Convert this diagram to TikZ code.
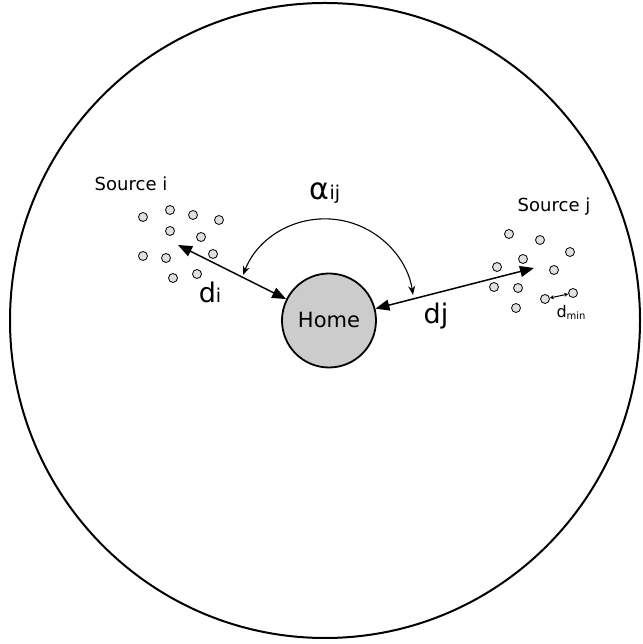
\documentclass[tikz,border=0pt]{standalone}
\usepackage{fontspec}
\setmainfont{DejaVu Sans}
\usepackage{xcolor}
\usetikzlibrary{arrows.meta}
\definecolor{homegray}{HTML}{CCCCCC}
\definecolor{ptgray}{HTML}{E0E0E0}
\newcommand{\fsz}[1]{\fontsize{#1}{#1}\selectfont}

\begin{document}
\begin{tikzpicture}[
  x=1pt, y=1pt,
  field/.style={draw=black, line width=2pt},
  home/.style={circle, draw=black, line width=1.8pt, fill=homegray,
               minimum size=94pt, inner sep=0pt, font=\fsz{21}},
  pt/.style={circle, draw=black, line width=0.8pt, fill=ptgray,
             minimum size=9pt, inner sep=0pt},
  lbl/.style={font=\fsz{18}, inner sep=0pt},
  big/.style={font=\fsz{27}, inner sep=0pt},
  dist/.style={{Triangle[length=14pt,width=11pt]}-{Triangle[length=14pt,width=11pt]},
               line width=1.5pt},
  ang/.style={{Stealth[length=9pt,width=7pt]}-{Stealth[length=9pt,width=7pt]},
              line width=1.1pt},
  dmin/.style={{Stealth[length=4pt,width=4pt]}-{Stealth[length=4pt,width=4pt]},
               line width=1pt}
]
\useasboundingbox (0,0) rectangle (642,644);
% outer field
\draw[field] (325,323.5) ellipse [x radius=315, y radius=317.5];
\node[home] (H) at (329,323.5) {Home};
% source i points
\foreach \x/\y [count=\k] in {143/427, 170/434, 193/429, 219/424, 170/413,
    201/407, 143/388, 166/386, 213/390, 173/366, 197/370}
  \node[pt] (i\k) at (\x,\y) {};
% source j points
\foreach \x/\y [count=\k] in {509/410, 540/404, 570/392, 523/385, 497/377,
    554/374, 494/357, 518/356, 516/336, 545/345, 573/351}
  \node[pt] (j\k) at (\x,\y) {};
\node[lbl] (srci) at (131,460) {Source i};
\node[lbl] (srcj) at (554,437) {Source j};
% distances to home
\coordinate (tipi) at (178,399);
\coordinate (tipj) at (534,376);
\draw[dist] (tipi) -- (H);
\draw[dist] (H) -- (tipj);
\node[big] (di) at (210,352) {d{\fsz{19}i}};
\node[big] (dj) at (436,328) {dj};
% angle between sources
\coordinate (angL) at (243,369);
\draw[ang] (angL) arc[start angle=158.5, end angle=8.1, radius=88.5];
\node[big] (aij) at (325,451) {\fsz{30}α{\fsz{19}ij}};
% minimum spacing
\draw[dmin] (j10) -- (j11);
\node[inner sep=0pt, font=\fsz{16}] (dm) at (571,332) {d\raisebox{-2pt}{\fsz{10}min}};
\end{tikzpicture}
\end{document}
